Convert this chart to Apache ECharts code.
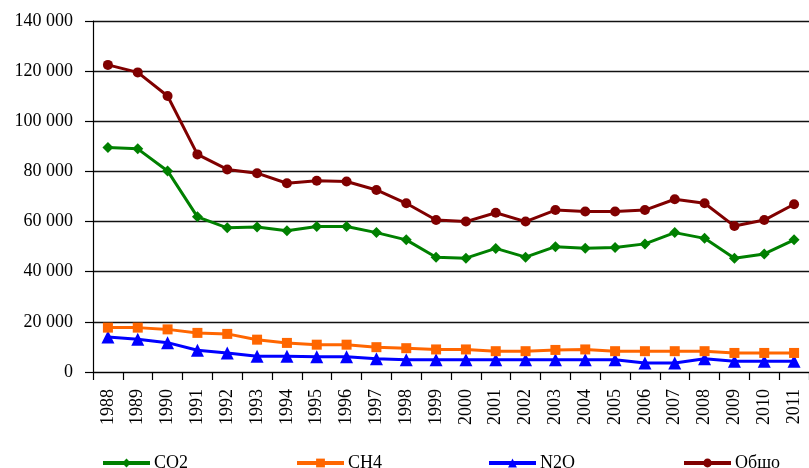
<!DOCTYPE html>
<html>
<head>
<meta charset="utf-8">
<script src="https://cdn.jsdelivr.net/npm/echarts@6/dist/echarts.min.js"></script>
<style>html,body{margin:0;padding:0;background:#fff}#c{width:809px;height:468px}</style>
</head>
<body>
<div id="c"></div>
<script>
const years = ['1988','1989','1990','1991','1992','1993','1994','1995','1996','1997','1998','1999','2000','2001','2002','2003','2004','2005','2006','2007','2008','2009','2010','2011'];
const co2 = [89500,89000,80200,61900,57500,57800,56300,58000,58000,55600,52700,45800,45400,49300,45800,50000,49400,49700,51100,55600,53300,45400,47100,52700];
const ch4 = [17700,17700,17000,15600,15200,12900,11600,10900,10900,9900,9500,9000,9000,8300,8300,8800,9000,8300,8300,8300,8300,7600,7600,7600];
const n2o = [14000,13100,11700,8700,7600,6300,6300,6100,6100,5300,4900,4900,4900,4900,4900,4900,4900,4900,3600,3600,5300,4300,4300,4300];
const total = [122500,119500,110100,86800,80800,79300,75300,76300,76000,72600,67300,60600,60000,63500,60000,64600,64000,64000,64600,68900,67300,58200,60600,66900];
const seriesNames = ['CO2','CH4','N2O','Общо'];
const yTicks = {min:0, max:140000, interval:20000};

const colors = ['#008000','#FF6600','#0000FF','#800000'];
const symbols = ['diamond','rect','triangle','circle'];
const sizes = [11,10,13,10];
const datas = [co2,ch4,n2o,total];
const font = 'Liberation Serif';

const chart = echarts.init(document.getElementById('c'));
const legendLefts = [96,290,482,677];
chart.setOption({
  animation:false,
  backgroundColor:'#fff',
  grid:{left:93, top:21, height:351, width:730, containLabel:false},
  legend: seriesNames.map((n,i)=>({
    data:[n], left:legendLefts[i], top:449, itemWidth:47, itemHeight:11, itemGap:5,
    lineStyle:{width:4},
    textStyle:{fontFamily:font, fontSize:18, color:'#000', padding:[0,0,0,-1]}
  })),
  xAxis:{
    type:'category', data:years, boundaryGap:true,
    axisLine:{lineStyle:{color:'#000', width:1.2}},
    axisTick:{show:true, length:8, lineStyle:{color:'#000', width:1.2}},
    axisLabel:{rotate:90, margin:17, fontFamily:font, fontSize:18, color:'#000'}
  },
  yAxis:{
    type:'value', min:yTicks.min, max:yTicks.max, interval:yTicks.interval,
    axisLine:{show:true, lineStyle:{color:'#000', width:1.2}},
    axisTick:{show:true, length:8, lineStyle:{color:'#000', width:1.2}},
    splitLine:{lineStyle:{color:'#111', width:1.4}},
    axisLabel:{margin:20, fontFamily:font, fontSize:18, color:'#000',
      formatter:v=>String(v).replace(/\B(?=(\d{3})+(?!\d))/g,' ')}
  },
  series: seriesNames.map((n,i)=>({
    name:n, type:'line', data:datas[i], symbol:symbols[i], symbolSize:sizes[i],
    lineStyle:{color:colors[i], width:3}, itemStyle:{color:colors[i]}, color:colors[i],
    z: 10-i
  }))
});
</script>
</body>
</html>
